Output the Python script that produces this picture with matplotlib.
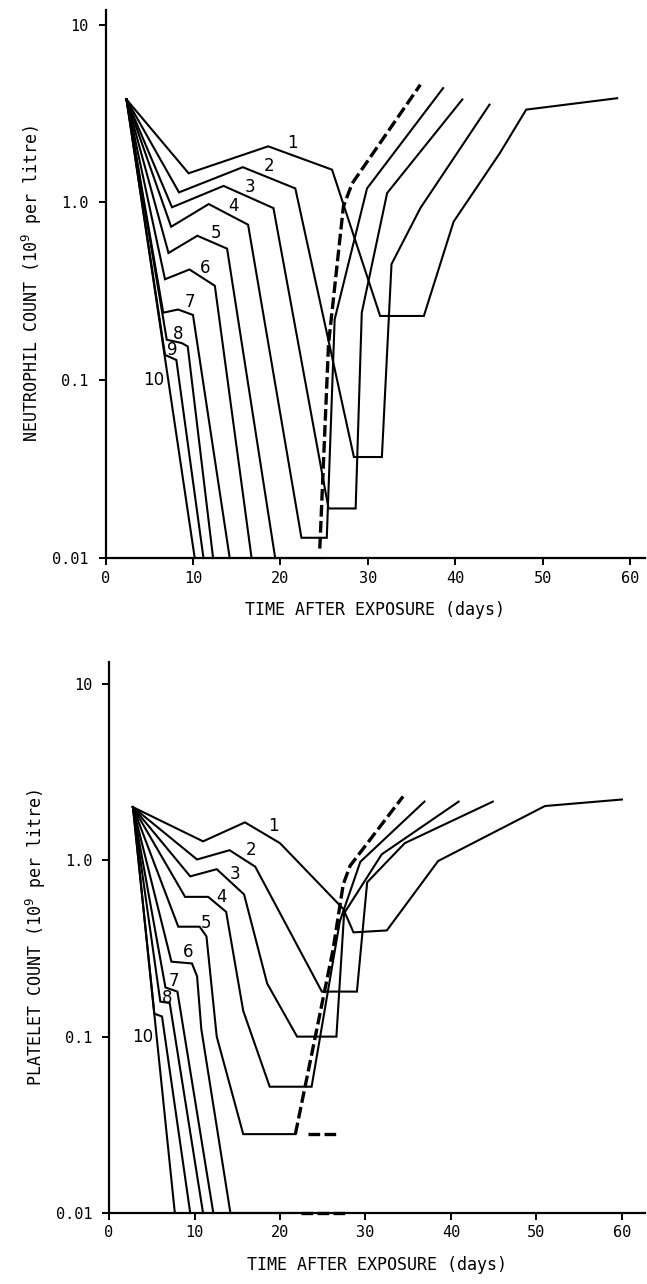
import matplotlib
matplotlib.use("Agg")
import matplotlib.pyplot as plt

# --- neutrophil panel (days, 10^9 per litre) ---
n_t = [
    [2.4, 9.5, 18.6, 25.9, 31.4, 36.4, 39.8, 45.1, 48.1, 58.5],
    [2.4, 8.4, 15.7, 21.7, 28.4, 31.6, 32.7, 36.0, 43.9],
    [2.4, 7.6, 13.5, 19.2, 25.5, 28.6, 29.3, 32.2, 40.8],
    [2.4, 7.5, 11.8, 16.3, 22.4, 25.3, 26.2, 29.9, 38.6],
    [2.4, 7.2, 10.5, 13.9, 19.4],
    [2.4, 6.8, 9.6, 12.5, 16.7, 25.0],
    [2.4, 6.6, 8.3, 10.0, 14.2],
    [2.4, 7.0, 8.7, 9.4, 12.3],
    [2.4, 6.8, 8.1, 11.2],
    [2.4, 10.2],
]
n_y = [
    [3.8, 1.46, 2.07, 1.53, 0.23, 0.23, 0.78, 1.9, 3.33, 3.86],
    [3.8, 1.14, 1.58, 1.20, 0.037, 0.037, 0.45, 0.93, 3.55],
    [3.8, 0.94, 1.24, 0.93, 0.019, 0.019, 0.24, 1.13, 3.8],
    [3.8, 0.73, 0.98, 0.75, 0.013, 0.013, 0.22, 1.2, 4.4],
    [3.8, 0.52, 0.65, 0.55, 0.01],
    [3.8, 0.37, 0.42, 0.34, 0.01, 0.01],
    [3.8, 0.24, 0.25, 0.233, 0.01],
    [3.8, 0.169, 0.162, 0.155, 0.01],
    [3.8, 0.139, 0.13, 0.01],
    [3.8, 0.01],
]
n_dash_t = [[24.5, 25.5, 27.2, 28.2, 36.0]]
n_dash_y = [[0.0113, 0.16, 0.95, 1.28, 4.6]]
n_lab_t = [21.4, 18.7, 16.5, 14.6, 12.6, 11.4, 9.6, 8.3, 7.6, 5.5]
n_lab_y = [2.16, 1.61, 1.23, 0.96, 0.67, 0.43, 0.275, 0.183, 0.148, 0.1]

# --- platelet panel ---
p_t = [
    [2.8, 11.0, 15.9, 20.0, 27.4, 28.6, 32.5, 38.5, 51.0, 60.0],
    [2.8, 10.3, 14.1, 17.1, 24.9, 29.0, 30.2, 34.6, 44.9],
    [2.8, 9.5, 12.6, 15.8, 18.5, 22.0, 26.6, 27.5, 31.9, 40.9],
    [2.8, 8.9, 11.6, 13.7, 15.7, 18.8, 23.7, 27.0, 29.4, 36.9],
    [2.8, 8.1, 10.6, 11.4, 12.6, 15.7, 21.8],
    [2.8, 7.3, 9.7, 10.3, 10.8, 14.2, 22.0],
    [2.8, 6.6, 8.0, 12.2],
    [2.8, 6.0, 7.1, 11.0],
    [2.8, 5.3, 6.2, 9.5],
    [2.8, 7.7],
]
p_y = [
    [2.0, 1.28, 1.64, 1.25, 0.53, 0.39, 0.40, 0.99, 2.03, 2.21],
    [2.0, 1.01, 1.14, 0.92, 0.18, 0.18, 0.75, 1.25, 2.15],
    [2.0, 0.81, 0.89, 0.64, 0.20, 0.10, 0.10, 0.50, 1.08, 2.15],
    [2.0, 0.62, 0.62, 0.51, 0.14, 0.052, 0.052, 0.45, 0.98, 2.15],
    [2.0, 0.42, 0.42, 0.37, 0.10, 0.028, 0.028],
    [2.0, 0.266, 0.26, 0.22, 0.11, 0.01, 0.01],
    [2.0, 0.19, 0.18, 0.01],
    [2.0, 0.158, 0.155, 0.01],
    [2.0, 0.135, 0.13, 0.01],
    [2.0, 0.01],
]
p_dash_t = [[21.8, 26.2, 27.4, 28.2, 34.4], [23.3, 27.0], [22.4, 27.8]]
p_dash_y = [[0.028, 0.31, 0.73, 0.93, 2.3], [0.028, 0.028], [0.01, 0.01]]
p_lab_t = [19.2, 16.6, 14.7, 13.2, 11.4, 9.3, 7.6, 6.75, None, 3.9]
p_lab_y = [1.57, 1.14, 0.84, 0.62, 0.44, 0.30, 0.207, 0.165, None, 0.099]

x_ticks = [0, 10, 20, 30, 40, 50, 60]
y_ticks = [0.01, 0.1, 1.0, 10]
y_ticklabels = ["0.01", "0.1", "1.0", "10"]

MONO = "DejaVu Sans Mono"


def panel(ax, ts, ys, dts, dys, lts, lys, xmax, ytop, ylabel):
    for t, y in zip(ts, ys):
        ax.plot(t, y, color="black", lw=1.5, clip_on=False,
                solid_joinstyle="miter")
    for t, y in zip(dts, dys):
        ax.plot(t, y, color="black", lw=2.4, dashes=(3.5, 1.3), clip_on=False)
    for i, (t, y) in enumerate(zip(lts, lys)):
        if t is None:
            continue
        ax.text(t, y, str(i + 1), ha="center", va="center", fontsize=12,
                family="DejaVu Sans")
    ax.set_yscale("log")
    ax.set_xlim(0, xmax)
    ax.set_ylim(0.01, ytop)
    ax.set_xticks(x_ticks)
    ax.set_yticks(y_ticks)
    ax.set_yticklabels(y_ticklabels)
    ax.minorticks_off()
    for s in ("top", "right"):
        ax.spines[s].set_visible(False)
    for s in ("left", "bottom"):
        ax.spines[s].set_linewidth(1.6)
    ax.tick_params(width=1.4, length=5, labelsize=11)
    ax.tick_params(axis="x", pad=4)
    ax.tick_params(axis="y", pad=7)
    for lab in ax.get_xticklabels() + ax.get_yticklabels():
        lab.set_family(MONO)
    ax.set_xlabel("TIME AFTER EXPOSURE (days)", family=MONO, fontsize=12,
                  labelpad=11)
    ax.set_ylabel(ylabel, family=MONO, fontsize=12, labelpad=6)


fig = plt.figure(figsize=(6.47, 12.84), dpi=100)
ax1 = fig.add_axes([0.1631, 0.5654, 0.834, 0.4268])
panel(ax1, n_t, n_y, n_dash_t, n_dash_y, n_lab_t, n_lab_y, 61.7, 12.1,
      r"NEUTROPHIL COUNT (10$^9$ per litre)")
ax2 = fig.add_axes([0.1685, 0.0553, 0.8284, 0.4291])
panel(ax2, p_t, p_y, p_dash_t, p_dash_y, p_lab_t, p_lab_y, 62.7, 13.3,
      r"PLATELET COUNT (10$^9$ per litre)")

fig.savefig("out.png", dpi=100)
